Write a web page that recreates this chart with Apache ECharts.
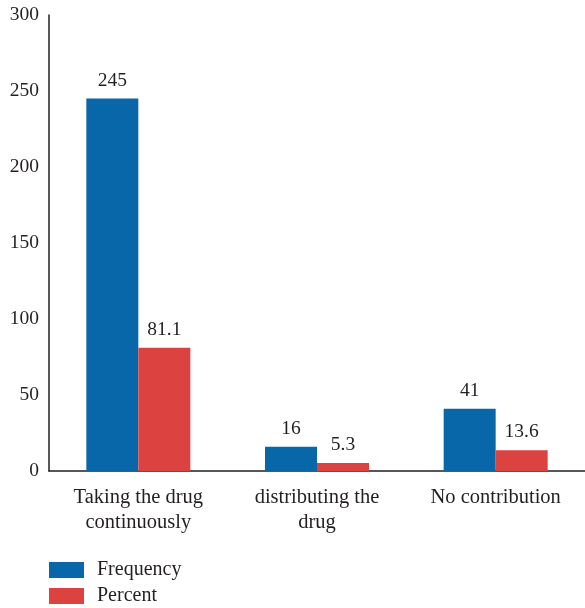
<!DOCTYPE html>
<html>
<head>
<meta charset="utf-8">
<script src="https://cdn.jsdelivr.net/npm/echarts@6/dist/echarts.min.js"></script>
<style>html,body{margin:0;padding:0;background:#fff;}#c{width:585px;height:608px;}</style>
</head>
<body>
<div id="c"></div>
<script>
var categories = ['Taking the drug\ncontinuously', 'distributing the\ndrug', 'No contribution'];
var frequency = [245, 16, 41];
var percent = [81.1, 5.3, 13.6];
var seriesNames = ['Frequency', 'Percent'];

var font = 'Liberation Serif';
var txt = '#231f20';
var legendText = {fontFamily: font, fontSize: 20, color: txt, lineHeight: 16, padding: [0, 0, 0, 8]};
var chart = echarts.init(document.getElementById('c'), null, {renderer: 'canvas'});
chart.setOption({
  animation: false,
  textStyle: {fontFamily: font},
  grid: {left: 49, right: 0, top: 15, bottom: 137},
  legend: [
    {left: 49, top: 560, padding: 0, itemWidth: 35, itemHeight: 16, icon: 'rect',
     textStyle: legendText, data: [seriesNames[0]]},
    {left: 49, top: 586, padding: 0, itemWidth: 35, itemHeight: 16, icon: 'rect',
     textStyle: legendText, data: [seriesNames[1]]}
  ],
  xAxis: {
    type: 'category', data: categories,
    axisLine: {lineStyle: {color: '#231f20', width: 1.5}},
    axisTick: {show: false},
    axisLabel: {fontFamily: font, fontSize: 20.5, color: txt, margin: 14, lineHeight: 25}
  },
  yAxis: {
    type: 'value', min: 0, max: 300, interval: 50,
    axisLine: {show: true, lineStyle: {color: '#231f20', width: 1.5}},
    axisTick: {show: false},
    splitLine: {show: false},
    axisLabel: {fontFamily: font, fontSize: 19.5, color: txt, margin: 10}
  },
  series: [
    {name: seriesNames[0], type: 'bar', data: frequency, barWidth: 52, barGap: '0%',
     itemStyle: {color: '#0867a9'},
     label: {show: true, position: 'top', distance: 8, fontFamily: font, fontSize: 19.5, color: txt}},
    {name: seriesNames[1], type: 'bar', data: percent, barWidth: 52, barGap: '0%',
     itemStyle: {color: '#db4240'},
     label: {show: true, position: 'top', distance: 8, fontFamily: font, fontSize: 19.5, color: txt}}
  ]
});
</script>
</body>
</html>
